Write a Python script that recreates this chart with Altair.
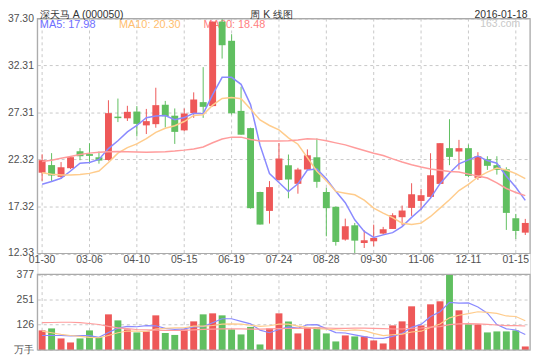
import altair as alt
import pandas as pd

# ---------------- data (weekly K-line, 52 weeks) ----------------
tick_idx = [0, 5, 10, 15, 20, 25, 30, 35, 40, 45, 50]
tick_labels = ["01-30", "03-06", "04-10", "05-15", "06-19", "07-24",
               "08-28", "09-30", "11-06", "12-11", "01-15"]

opens = [20.92, 21.73, 20.48, 21.40, 23.20, 22.90, 22.56, 22.27, 26.88, 26.70,
         27.42, 25.95, 26.08, 28.15, 26.98, 25.42, 27.26, 28.42, 28.00, 36.98,
         34.94, 27.49, 25.66, 18.87, 16.86, 20.14, 21.72, 19.74, 21.26, 22.56,
         18.87, 17.30, 13.81, 15.33, 13.45, 13.63, 14.45, 14.94, 16.19, 17.18,
         17.92, 18.35, 19.73, 23.53, 23.17, 23.53, 20.37, 22.36, 21.72, 21.29,
         16.08, 14.55]
highs = [22.88, 23.00, 22.05, 22.70, 23.54, 24.05, 23.17, 28.62, 28.80, 28.03,
         28.00, 27.70, 29.95, 28.55, 27.75, 27.75, 29.46, 32.14, 36.98, 37.30,
         35.64, 30.06, 25.70, 18.90, 20.03, 24.07, 22.85, 21.44, 23.40, 24.56,
         19.32, 17.32, 16.04, 15.58, 14.80, 15.40, 15.16, 16.61, 17.43, 19.80,
         19.20, 22.99, 24.06, 26.61, 24.41, 23.92, 23.10, 22.67, 22.67, 21.50,
         16.54, 16.01]
lows = [20.05, 20.05, 20.25, 21.30, 22.25, 21.90, 21.88, 22.20, 26.30, 26.42,
        24.78, 25.03, 25.70, 25.73, 23.98, 25.33, 26.75, 26.75, 27.95, 33.05,
        27.10, 24.96, 17.10, 15.41, 15.51, 20.10, 18.20, 18.69, 21.22, 19.32,
        14.16, 13.17, 13.70, 12.33, 12.92, 13.10, 14.34, 14.94, 15.33, 16.33,
        16.97, 18.17, 19.73, 21.72, 21.26, 20.44, 20.16, 21.22, 20.72, 14.84,
        13.88, 14.30]
closes = [22.25, 20.62, 21.50, 22.57, 22.67, 22.71, 22.21, 27.25, 26.72, 27.39,
          26.11, 26.40, 28.10, 26.93, 25.26, 27.21, 28.70, 27.92, 36.98, 34.47,
          27.24, 24.96, 17.15, 15.41, 19.39, 22.43, 20.21, 21.26, 22.77, 19.95,
          17.15, 13.56, 15.23, 13.70, 13.74, 13.99, 14.91, 16.40, 16.90, 18.63,
          18.53, 20.65, 24.06, 22.60, 23.53, 20.58, 22.67, 21.65, 21.22, 16.65,
          14.73, 15.58]
ma5 = [19.70, 19.98, 20.33, 21.10, 21.92, 22.01, 22.33, 23.48, 24.31, 25.26,
       25.94, 26.77, 26.94, 26.99, 26.56, 26.78, 27.24, 27.20, 29.21, 31.06,
       31.06, 30.31, 28.16, 23.85, 20.83, 19.87, 18.92, 19.74, 21.21, 21.32,
       20.27, 18.94, 17.73, 15.92, 14.68, 14.04, 14.31, 14.55, 15.19, 16.17,
       17.07, 18.22, 19.75, 20.89, 21.87, 22.28, 22.69, 22.21, 21.93, 20.55,
       19.38, 17.98]
ma10 = [20.92, 20.75, 20.68, 20.68, 20.72, 20.85, 21.10, 22.00, 23.00, 23.59,
        23.98, 24.55, 25.21, 25.65, 25.91, 26.36, 27.01, 27.07, 28.10, 28.81,
        28.92, 28.78, 27.68, 26.53, 25.94, 25.47, 24.62, 23.95, 22.53, 21.08,
        20.07, 18.93, 18.74, 18.57, 18.00, 17.16, 16.63, 16.14, 15.55, 15.42,
        15.56, 16.27, 17.15, 18.04, 19.02, 19.68, 20.46, 20.98, 21.41, 21.21,
        20.83, 20.30]
ma30 = [22.10, 22.25, 22.45, 22.65, 22.85, 23.00, 23.10, 23.15, 23.18, 23.15,
        23.12, 23.10, 23.12, 23.15, 23.22, 23.32, 23.45, 23.65, 24.10, 24.50,
        24.70, 24.70, 24.45, 24.30, 24.28, 24.30, 24.32, 24.40, 24.52, 24.49,
        24.32, 24.09, 23.88, 23.58, 23.28, 22.99, 22.75, 22.39, 22.06, 21.77,
        21.52, 21.32, 21.19, 21.05, 20.99, 20.77, 20.57, 20.36, 19.83, 19.24,
        18.82, 18.48]
vols = [97.5, 107.5, 57.5, 37.5, 57.5, 97.5, 64, 177.5, 147.5, 102.5,
        87.5, 92.5, 172.5, 85, 75, 102.5, 142.5, 177.5, 182.5, 172.5,
        102.5, 77.5, 115, 27.5, 107.5, 182.5, 142.5, 82.5, 112.5, 112.5,
        82.5, 42.5, 72.5, 67.5, 67.5, 47.5, 32.5, 122.5, 142.5, 217.5,
        122.5, 227.5, 242.5, 377, 197.5, 127.5, 127.5, 87.5, 92.5, 92.5,
        97.5, 17.5]
vma5 = [72, 72, 72, 70, 71.5, 71.5, 62.8, 86.8, 108.8, 117.8,
        115.8, 121.5, 120.5, 108, 102.5, 105.5, 115.5, 116.5, 136, 155.5,
        155.5, 142.5, 130, 99, 86, 102, 115, 108.5, 125.5, 126.5,
        106.5, 86.5, 84.5, 75.5, 66.5, 59.5, 57.5, 67.5, 82.5, 112.5,
        127.5, 166.5, 190.5, 237.4, 233.4, 234.4, 214.4, 183.4, 126.5, 105.5,
        99.5, 77.5]
vma10 = [94, 86, 78, 72, 68, 63, 61, 72, 86, 94.65,
         93.65, 92.15, 103.65, 108.4, 110.15, 110.65, 118.5, 118.5, 122, 129,
         130.5, 129, 123.25, 117.5, 120.75, 128.75, 128.75, 119.25, 112.25, 106.25,
         104.25, 100.75, 96.5, 100.5, 96.5, 83, 72, 76, 79, 89.5,
         93.5, 112, 129, 159.95, 172.95, 180.95, 190.45, 186.95, 181.95, 169.45,
         166.95, 145.95]
vma30 = [136, 137, 138, 138, 136, 132, 127, 118, 110, 106,
         102, 100, 99, 98, 97, 98, 100, 103, 104, 105,
         105, 105, 104, 104, 105, 106, 107, 108, 109, 109.97,
         109.47, 107.3, 107.8, 108.8, 109.13, 107.47, 106.42, 104.58, 104.42, 108.25,
         109.42, 113.92, 116.25, 125.98, 130.07, 130.9, 130.4, 127.4, 124.4, 121.73,
         121.57, 119.57]

price_ticks = [12.33, 17.32, 22.32, 27.31, 32.31, 37.30]
vol_ticks = [0, 126, 251, 377]

title_left = "深天马 A (000050)"
title_mid = "周 K 线图"
title_right = "2016-01-18"
ma_labels = ["MA5: 17.98", "MA10: 20.30", "MA30: 18.48"]
watermark = "163.com"

# ---------------- styling ----------------
RED = "#ee5858"
GREEN = "#60bf60"
C5, C10, C30 = "#8a8aff", "#ffcc8c", "#ff9c9c"
T5, T10, T30 = "#6e6eff", "#ffbe6e", "#ff8080"
GRID = "#c8c8c8"
FRAME = "#aaaaaa"
LBL = "#505050"
FONT = "Liberation Sans"

W, H = 498, 335
P_BOTTOM = 237.5
V_TOP = 258.5

n = len(closes)
idx = list(range(n))
df = pd.DataFrame(dict(idx=idx, open=opens, high=highs, low=lows, close=closes,
                       vol=vols, ma5=ma5, ma10=ma10, ma30=ma30,
                       vma5=vma5, vma10=vma10, vma30=vma30))
df["dir"] = ["up" if c >= o else "down" for o, c in zip(opens, closes)]
tick_df = pd.DataFrame({"idx": tick_idx, "label": tick_labels})
one_df = pd.DataFrame({"k": [0]})

xs = alt.Scale(domain=idx, paddingInner=0, paddingOuter=0)
X = alt.X("idx:O", scale=xs, axis=None)
col = alt.Color("dir:N", scale=alt.Scale(domain=["up", "down"], range=[RED, GREEN]), legend=None)

ps = alt.Scale(domain=[12.33, 37.30], range=[P_BOTTOM, 0], zero=False, nice=False)
vs = alt.Scale(domain=[0, 377], range=[H, V_TOP], zero=True, nice=False)

common_axis = dict(orient="left", grid=True, gridColor=GRID, gridDash=[3, 3], gridWidth=1,
                   ticks=False, domain=False, labelFont=FONT, labelFontSize=10.5,
                   labelColor=LBL, labelPadding=4, title=None, labelFlush=False,
                   labelOverlap=False)
p_axis = alt.Axis(values=price_ticks, format=".2f",
                  labelOffset={"condition": {"test": "datum.value < 13", "value": -1.5}, "value": 0},
                  **common_axis)
v_axis = alt.Axis(values=vol_ticks, format="d",
                  labelExpr="datum.value == 0 ? '万手' : datum.label", **common_axis)


def PY(field):
    return alt.Y(field, type="quantitative", scale=ps, axis=p_axis)


def VY(field):
    return alt.Y(field, type="quantitative", scale=vs, axis=v_axis)


base = alt.Chart(df)
tk = alt.Chart(tick_df)
one = alt.Chart(one_df)

# ---------------- price panel ----------------
p_vgrid = tk.mark_rule(color=GRID, strokeDash=[3, 3], strokeWidth=1).encode(
    x=X, y=alt.Y(datum=price_ticks[-1], type="quantitative", scale=ps, axis=p_axis),
    y2=alt.datum(price_ticks[0]))

leg_style = dict(font=FONT, fontSize=11, baseline="middle", align="left")
p_leg5 = one.mark_text(color=T5, **leg_style).encode(
    x=alt.value(2.5), y=alt.value(7), text=alt.value(ma_labels[0]))
p_leg10 = one.mark_text(color=T10, **leg_style).encode(
    x=alt.value(82.5), y=alt.value(7), text=alt.value(ma_labels[1]))
p_leg30 = one.mark_text(color=T30, **leg_style).encode(
    x=alt.value(168), y=alt.value(7), text=alt.value(ma_labels[2]))
p_wm = one.mark_text(color="#c8c8c8", font=FONT, fontSize=10.5, baseline="middle", align="right").encode(
    x=alt.value(488), y=alt.value(6), text=alt.value(watermark))

wicks = base.mark_rule(strokeWidth=1).encode(x=X, y=PY("low"), y2="high", color=col)
bodies = base.mark_bar(size=7).encode(x=X, y=PY("open"), y2="close", color=col)
l5 = base.mark_line(color=C5, strokeWidth=1.5).encode(x=X, y=PY("ma5"))
l10 = base.mark_line(color=C10, strokeWidth=1.5).encode(x=X, y=PY("ma10"))
l30 = base.mark_line(color=C30, strokeWidth=1.5).encode(x=X, y=PY("ma30"))
p_frame = one.mark_rect(fillOpacity=0, stroke=FRAME, strokeWidth=1.2).encode(
    x=alt.value(0), x2=alt.value(W),
    y=alt.Y(datum=price_ticks[-1], type="quantitative", scale=ps, axis=p_axis),
    y2=alt.datum(price_ticks[0]))

price = alt.layer(p_vgrid, p_leg5, p_leg10, p_leg30, p_wm, wicks, bodies, l5, l10, l30, p_frame)

# ---------------- volume panel ----------------
v_vgrid = tk.mark_rule(color=GRID, strokeDash=[3, 3], strokeWidth=1).encode(
    x=X, y=alt.Y(datum=vol_ticks[-1], type="quantitative", scale=vs, axis=v_axis),
    y2=alt.datum(0))
v_bars = base.mark_bar(size=7).encode(x=X, y=VY("vol"), color=col)
v5 = base.mark_line(color=C5, strokeWidth=1.2).encode(x=X, y=VY("vma5"))
v10 = base.mark_line(color=C10, strokeWidth=1.2).encode(x=X, y=VY("vma10"))
v30 = base.mark_line(color=C30, strokeWidth=1.2).encode(x=X, y=VY("vma30"))
v_frame = one.mark_rect(fillOpacity=0, stroke=FRAME, strokeWidth=1.2).encode(
    x=alt.value(0), x2=alt.value(W),
    y=alt.Y(datum=vol_ticks[-1], type="quantitative", scale=vs, axis=v_axis),
    y2=alt.datum(0))

volume = alt.layer(v_vgrid, v_bars, v5, v10, v30, v_frame)

# ---------------- texts outside panels ----------------
title_style = dict(font=FONT, fontSize=10.5, color="#333333", baseline="alphabetic")
t_left = one.mark_text(align="left", **title_style).encode(
    x=alt.value(2.5), y=alt.value(-0.6), text=alt.value(title_left))
t_mid = one.mark_text(align="center", **title_style).encode(
    x=alt.value(237), y=alt.value(-0.6), text=alt.value(title_mid))
t_right = one.mark_text(align="right", **title_style).encode(
    x=alt.value(495.5), y=alt.value(-0.6), text=alt.value(title_right))
x_lbls = tk.mark_text(font=FONT, fontSize=10.5, color=LBL, baseline="middle").encode(
    x=X, y=alt.value(243.6), text="label:N")

chart = alt.layer(price, volume, t_left, t_mid, t_right, x_lbls).resolve_scale(
    y="independent"
).properties(
    width=W, height=H,
    autosize=alt.AutoSizeParams(type="none"),
    padding={"left": 29.7, "top": 8.8, "right": 2, "bottom": 6},
).configure_view(stroke=None).configure(background="white")

chart.save("out.html", embed_options={"renderer": "svg", "actions": False})
